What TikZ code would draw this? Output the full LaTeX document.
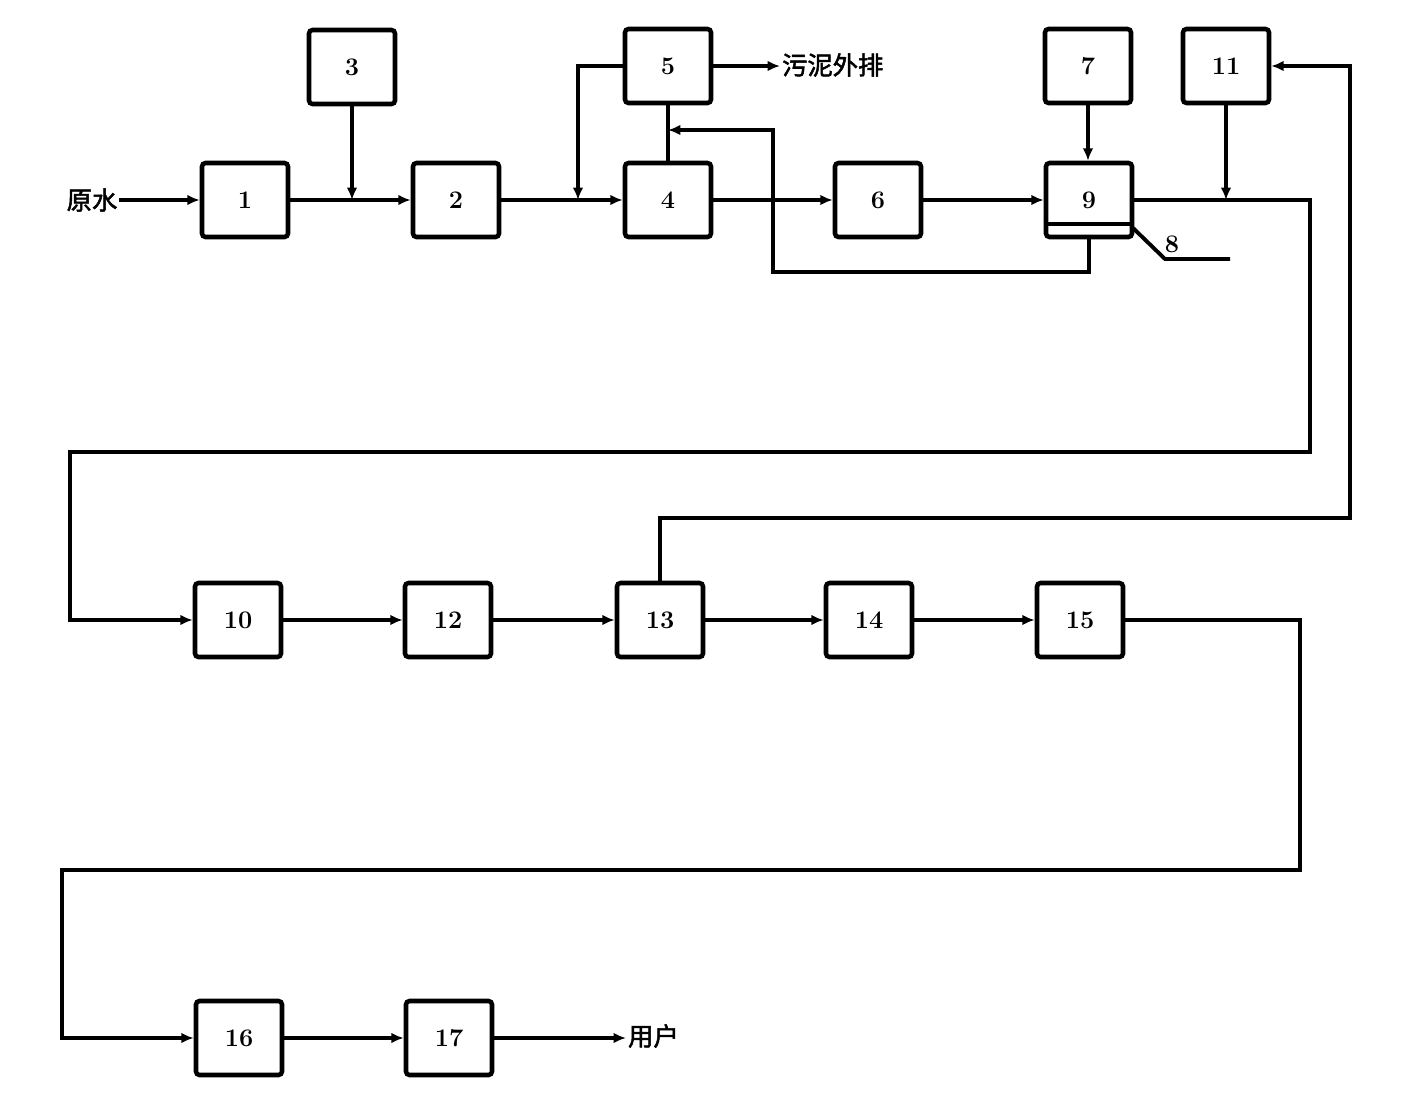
\documentclass[tikz,border=0pt]{standalone}
\usepackage{fontspec}
\newfontfamily\cjk{Noto Sans CJK SC}[FakeBold=2]
\usetikzlibrary{arrows.meta}
\begin{document}
\begin{tikzpicture}[x=0.02cm,y=-0.02cm,
  box/.style={draw,line width=2.6pt,rounded corners=2pt,minimum width=1.72cm,minimum height=1.48cm,inner sep=0pt,font=\bfseries\Large},
  conn/.style={line width=2.2pt},
  arr/.style={conn,-{Latex[length=7pt,width=6pt]}},
  lbl/.style={font=\cjk\Large,inner sep=1pt}]
\useasboundingbox (0,0) rectangle (1401,1106);
% top row
\node[box] (b1) at (245,200) {1};
\node[box] (b2) at (456,200) {2};
\node[box] (b3) at (352,67) {3};
\node[box] (b4) at (668,200) {4};
\node[box] (b5) at (668,66) {5};
\node[box] (b6) at (878,200) {6};
\node[box] (b7) at (1088,66) {7};
\node[box] (b9) at (1089,200) {9};
\node[box] (b11) at (1226,66) {11};
% middle row
\node[box] (b10) at (238,620) {10};
\node[box] (b12) at (448,620) {12};
\node[box] (b13) at (660,620) {13};
\node[box] (b14) at (869,620) {14};
\node[box] (b15) at (1080,620) {15};
% bottom row
\node[box] (b16) at (239,1038) {16};
\node[box] (b17) at (449,1038) {17};
% texts
\node[lbl] (yuan) at (92,200) {原水};
\node[lbl,anchor=west] (wu) at (780,65) {污泥外排};
\node[lbl,anchor=west] (yh) at (626,1036) {用户};
\node[font=\bfseries\Large] (l8) at (1172,244) {8};
% coordinates
\coordinate (p5a) at (578,66);
\coordinate (p5b) at (578,200);
\coordinate (r1) at (773,130);
\coordinate (r2) at (773,272);
\coordinate (r3) at (1089,272);
\coordinate (j4) at (668,130);
\coordinate (c1) at (1310,200);
\coordinate (c2) at (1310,452);
\coordinate (c3) at (70,452);
\coordinate (c4) at (70,620);
\coordinate (d1) at (1350,66);
\coordinate (d2) at (1350,518);
\coordinate (d3) at (660,518);
\coordinate (e1) at (1300,620);
\coordinate (e2) at (1300,870);
\coordinate (e3) at (62,870);
\coordinate (e4) at (62,1038);
\coordinate (s1) at (1133,228);
\coordinate (s2) at (1165,259);
\coordinate (s3) at (1230,259);
% connectors
\draw[arr] (yuan.east) -- (b1.west);
\draw[arr] (b1.east) -- (b2.west);
\draw[arr] (b3.south) -- (b3.south |- b1.east);
\draw[arr] (b2.east) -- (b4.west);
\draw[arr] (b5.west) -- (p5a) -- (p5b);
\draw[arr] (b4.east) -- (b6.west);
\draw[arr] (b5.east) -- (b5.east -| wu.west);
\draw[conn] (b5.south) -- (b4.north);
\draw[arr] (b9.south) -- (r3) -- (r2) -- (r1) -- (j4);
\draw[arr] (b6.east) -- (b9.west);
\draw[arr] (b7.south) -- (b7.south |- b9.north);
\draw[arr] (b9.east) -- (c1) -- (c2) -- (c3) -- (c4) -- (b10.west);
\draw[arr] (b11.south) -- (b11.south |- b9.east);
\draw[arr] (b13.north) -- (d3) -- (d2) -- (d1) -- (b11.east);
\draw[arr] (b10.east) -- (b12.west);
\draw[arr] (b12.east) -- (b13.west);
\draw[arr] (b13.east) -- (b14.west);
\draw[arr] (b14.east) -- (b15.west);
\draw[arr] (b15.east) -- (e1) -- (e2) -- (e3) -- (e4) -- (b16.west);
\draw[arr] (b16.east) -- (b17.west);
\draw[arr] (b17.east) -- (b17.east -| yh.west);
\draw[conn] ([yshift=0.3cm]b9.south west) -- ([yshift=0.3cm]b9.south east);
\draw[conn] (s1) -- (s2) -- (s3);
\end{tikzpicture}
\end{document}
